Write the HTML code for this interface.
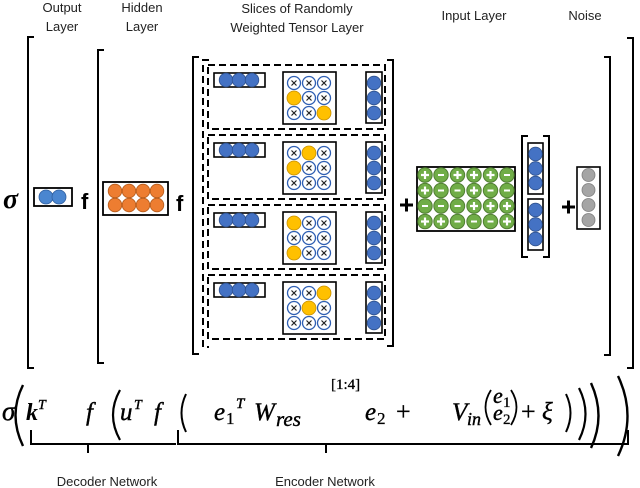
<!DOCTYPE html>
<html><head><meta charset="utf-8"><style>
html,body{margin:0;padding:0;background:#fff;}
svg{display:block;}
.lbl{font-family:"Liberation Sans",sans-serif;font-size:13px;fill:#222;text-anchor:middle;}
.m{font-family:"Liberation Serif",serif;font-style:italic;fill:#000;stroke:#000;stroke-width:0.4;}
.r{font-family:"Liberation Serif",serif;fill:#000;stroke:#000;stroke-width:0.3;}
</style></head><body>
<svg width="640" height="488" viewBox="0 0 640 488" xmlns="http://www.w3.org/2000/svg">
<defs>
<g id="xc"><circle r="6.5" fill="#fff" stroke="#2f5fb3" stroke-width="1.3"/><path d="M-2.5,-2.5L2.5,2.5M2.5,-2.5L-2.5,2.5" stroke="#222" stroke-width="1.2"/></g>
<g id="oc"><circle r="7" fill="#ffc000" stroke="#c89000" stroke-width="0.8"/></g>
<g id="bc"><circle r="6.8" fill="#4472c4" stroke="#2f528f" stroke-width="0.8"/></g>
<g id="gp"><circle r="7.2" fill="#70ad47" stroke="#507e32" stroke-width="1"/><path d="M-4,0H4M0,-4V4" stroke="#fff" stroke-width="2.2"/></g>
<g id="gm"><circle r="7.2" fill="#70ad47" stroke="#507e32" stroke-width="1"/><path d="M-3,0H3" stroke="#fff" stroke-width="2"/></g>
<g id="gy"><circle r="6.5" fill="#a5a5a5" stroke="#7f7f7f" stroke-width="0.8"/></g>
<g id="slice">
<rect x="208" y="0" width="177" height="64" fill="none" stroke="#000" stroke-width="2" stroke-dasharray="7,4"/>
<rect x="214" y="8" width="51" height="14" fill="#fff" stroke="#000" stroke-width="1.6"/>
<use href="#bc" x="226" y="15"/><use href="#bc" x="239" y="15"/><use href="#bc" x="252" y="15"/>
<rect x="283" y="7" width="53" height="52" fill="#fff" stroke="#000" stroke-width="1.6"/>
<rect x="366" y="7" width="16" height="51" fill="#fff" stroke="#000" stroke-width="1.6"/>
<use href="#bc" x="374" y="18"/><use href="#bc" x="374" y="33"/><use href="#bc" x="374" y="48"/>
</g>
</defs>

<text class="lbl" x="62" y="12">Output</text><text class="lbl" x="62" y="31">Layer</text>
<text class="lbl" x="142" y="12">Hidden</text><text class="lbl" x="142" y="31">Layer</text>
<text class="lbl" x="297" y="13">Slices of Randomly</text><text class="lbl" x="297" y="32">Weighted Tensor Layer</text>
<text class="lbl" x="474" y="20">Input Layer</text>
<text class="lbl" x="585" y="20">Noise</text>

<g fill="none" stroke="#000" stroke-width="2">
<path d="M34,37H28V368H34"/><path d="M627,38H633V368H627"/>
<path d="M104,50H98V363H104"/><path d="M604,57H610V355H604"/>
<path d="M199,57H193V354H199"/><path d="M387,60H393V346H387"/>
<path d="M528,136H522V257H528"/><path d="M543,136H549V257H543"/>
<path d="M209,60H203V347H209" stroke-dasharray="7,4"/>
</g>

<text x="3" y="208" style="font-family:'Liberation Serif',serif;font-style:italic;font-weight:bold;font-size:28px">σ</text>
<rect x="34" y="188" width="38" height="18" fill="#fff" stroke="#000" stroke-width="1.8"/>
<circle cx="46" cy="197" r="7" fill="#4a86d0" stroke="#2f5fa0" stroke-width="0.8"/>
<circle cx="59" cy="197" r="7" fill="#4a86d0" stroke="#2f5fa0" stroke-width="0.8"/>
<text x="81" y="209" style="font-family:'Liberation Sans',sans-serif;font-weight:bold;font-size:22px">f</text>
<rect x="103" y="182" width="65" height="33" fill="#fff" stroke="#000" stroke-width="1.8"/>
<g fill="#ed7d31" stroke="#b55a1a" stroke-width="0.8">
<circle cx="115" cy="191" r="6.8"/><circle cx="129" cy="191" r="6.8"/><circle cx="143" cy="191" r="6.8"/><circle cx="157" cy="191" r="6.8"/>
<circle cx="115" cy="205" r="6.8"/><circle cx="129" cy="205" r="6.8"/><circle cx="143" cy="205" r="6.8"/><circle cx="157" cy="205" r="6.8"/>
</g>
<text x="176" y="211" style="font-family:'Liberation Sans',sans-serif;font-weight:bold;font-size:22px">f</text>

<g transform="translate(0,65)"><use href="#slice"/>
<use href="#xc" x="294" y="18"/><use href="#xc" x="309" y="18"/><use href="#xc" x="324" y="18"/>
<use href="#oc" x="294" y="33"/><use href="#xc" x="309" y="33"/><use href="#xc" x="324" y="33"/>
<use href="#xc" x="294" y="48"/><use href="#xc" x="309" y="48"/><use href="#oc" x="324" y="48"/></g>
<g transform="translate(0,135)"><use href="#slice"/>
<use href="#xc" x="294" y="18"/><use href="#oc" x="309" y="18"/><use href="#xc" x="324" y="18"/>
<use href="#oc" x="294" y="33"/><use href="#xc" x="309" y="33"/><use href="#xc" x="324" y="33"/>
<use href="#xc" x="294" y="48"/><use href="#xc" x="309" y="48"/><use href="#xc" x="324" y="48"/></g>
<g transform="translate(0,205)"><use href="#slice"/>
<use href="#oc" x="294" y="18"/><use href="#xc" x="309" y="18"/><use href="#xc" x="324" y="18"/>
<use href="#xc" x="294" y="33"/><use href="#xc" x="309" y="33"/><use href="#xc" x="324" y="33"/>
<use href="#oc" x="294" y="48"/><use href="#xc" x="309" y="48"/><use href="#xc" x="324" y="48"/></g>
<g transform="translate(0,275)"><use href="#slice"/>
<use href="#xc" x="294" y="18"/><use href="#xc" x="309" y="18"/><use href="#oc" x="324" y="18"/>
<use href="#xc" x="294" y="33"/><use href="#oc" x="309" y="33"/><use href="#xc" x="324" y="33"/>
<use href="#xc" x="294" y="48"/><use href="#xc" x="309" y="48"/><use href="#xc" x="324" y="48"/></g>

<path d="M400,205H413M406.5,198.5V211.5" stroke="#000" stroke-width="3"/>
<path d="M562,207H575M568.5,200.5V213.5" stroke="#000" stroke-width="3"/>

<rect x="417" y="167" width="98" height="64" fill="#fff" stroke="#000" stroke-width="1.8"/>
<g>
<use href="#gp" x="425" y="175"/><use href="#gm" x="441" y="175"/><use href="#gp" x="457.5" y="175"/><use href="#gp" x="474" y="175"/><use href="#gp" x="490.5" y="175"/><use href="#gm" x="507" y="175"/>
<use href="#gp" x="425" y="190.5"/><use href="#gm" x="441" y="190.5"/><use href="#gm" x="457.5" y="190.5"/><use href="#gp" x="474" y="190.5"/><use href="#gm" x="490.5" y="190.5"/><use href="#gm" x="507" y="190.5"/>
<use href="#gm" x="425" y="206"/><use href="#gm" x="441" y="206"/><use href="#gm" x="457.5" y="206"/><use href="#gp" x="474" y="206"/><use href="#gp" x="490.5" y="206"/><use href="#gp" x="507" y="206"/>
<use href="#gp" x="425" y="221.5"/><use href="#gp" x="441" y="221.5"/><use href="#gm" x="457.5" y="221.5"/><use href="#gm" x="474" y="221.5"/><use href="#gm" x="490.5" y="221.5"/><use href="#gp" x="507" y="221.5"/>
</g>

<rect x="528" y="143" width="15" height="51" fill="#fff" stroke="#000" stroke-width="1.6"/>
<use href="#bc" x="535.5" y="154"/><use href="#bc" x="535.5" y="168.5"/><use href="#bc" x="535.5" y="183"/>
<rect x="528" y="199" width="15" height="51" fill="#fff" stroke="#000" stroke-width="1.6"/>
<use href="#bc" x="535.5" y="210"/><use href="#bc" x="535.5" y="224.5"/><use href="#bc" x="535.5" y="239"/>

<rect x="577" y="167" width="23" height="62" fill="#fff" stroke="#000" stroke-width="1.6"/>
<use href="#gy" x="588.5" y="175"/><use href="#gy" x="588.5" y="190"/><use href="#gy" x="588.5" y="205"/><use href="#gy" x="588.5" y="220"/>

<!-- equation -->
<text class="m" x="2" y="420" font-size="27">σ</text>
<path d="M23,385Q8,415 23,446" fill="none" stroke="#000" stroke-width="2.4"/>
<text x="26" y="420" font-size="24" style="font-family:'Liberation Serif',serif;font-style:italic;font-weight:bold">k</text>
<text class="m" x="38" y="409" font-size="14">T</text>
<text class="m" x="86" y="420" font-size="25">f</text>
<path d="M120,390Q106,415 120,440" fill="none" stroke="#000" stroke-width="2.2"/>
<text class="m" x="120" y="420" font-size="25">u</text>
<text class="m" x="134" y="409" font-size="14">T</text>
<text class="m" x="154" y="420" font-size="25">f</text>
<path d="M186,394Q177,413 186,432" fill="none" stroke="#000" stroke-width="2"/>
<text class="m" x="214" y="420" font-size="25">e</text>
<text class="r" x="226" y="424" font-size="17">1</text>
<text class="m" x="236" y="408" font-size="15">T</text>
<text class="m" x="254" y="420" font-size="25">W</text>
<text class="m" x="276" y="426" font-size="21">res</text>
<text class="r" x="331" y="389" font-size="15">[1:4]</text>
<text class="m" x="365" y="420" font-size="25">e</text>
<text class="r" x="377" y="424" font-size="17">2</text>
<text class="r" x="396" y="420" font-size="26">+</text>
<text class="m" x="452" y="420" font-size="25">V</text>
<text class="m" x="467" y="425" font-size="18">in</text>
<path d="M491,390Q480,407 491,425" fill="none" stroke="#000" stroke-width="1.8"/>
<text class="m" x="493" y="403" font-size="22">e</text>
<text class="r" x="503" y="407" font-size="15">1</text>
<text class="m" x="493" y="420" font-size="22">e</text>
<text class="r" x="503" y="424" font-size="15">2</text>
<path d="M511,390Q522,407 511,425" fill="none" stroke="#000" stroke-width="1.8"/>
<text class="r" x="521" y="420" font-size="26">+</text>
<text class="m" x="542" y="420" font-size="25">ξ</text>
<path d="M566,394Q575,413 566,432" fill="none" stroke="#000" stroke-width="2"/>
<path d="M579,388Q592,414 579,440" fill="none" stroke="#000" stroke-width="2.2"/>
<path d="M591,383Q606,416 591,448" fill="none" stroke="#000" stroke-width="2.4"/>
<path d="M618,376Q637,416 618,456" fill="none" stroke="#000" stroke-width="2.4"/>

<path d="M31,430V444H176M178,430V444H628V430" fill="none" stroke="#000" stroke-width="2"/>
<path d="M88,444V453M326,444V453" stroke="#000" stroke-width="2"/>
<text class="lbl" x="107" y="486">Decoder Network</text>
<text class="lbl" x="325" y="486">Encoder Network</text>
</svg>
</body></html>
